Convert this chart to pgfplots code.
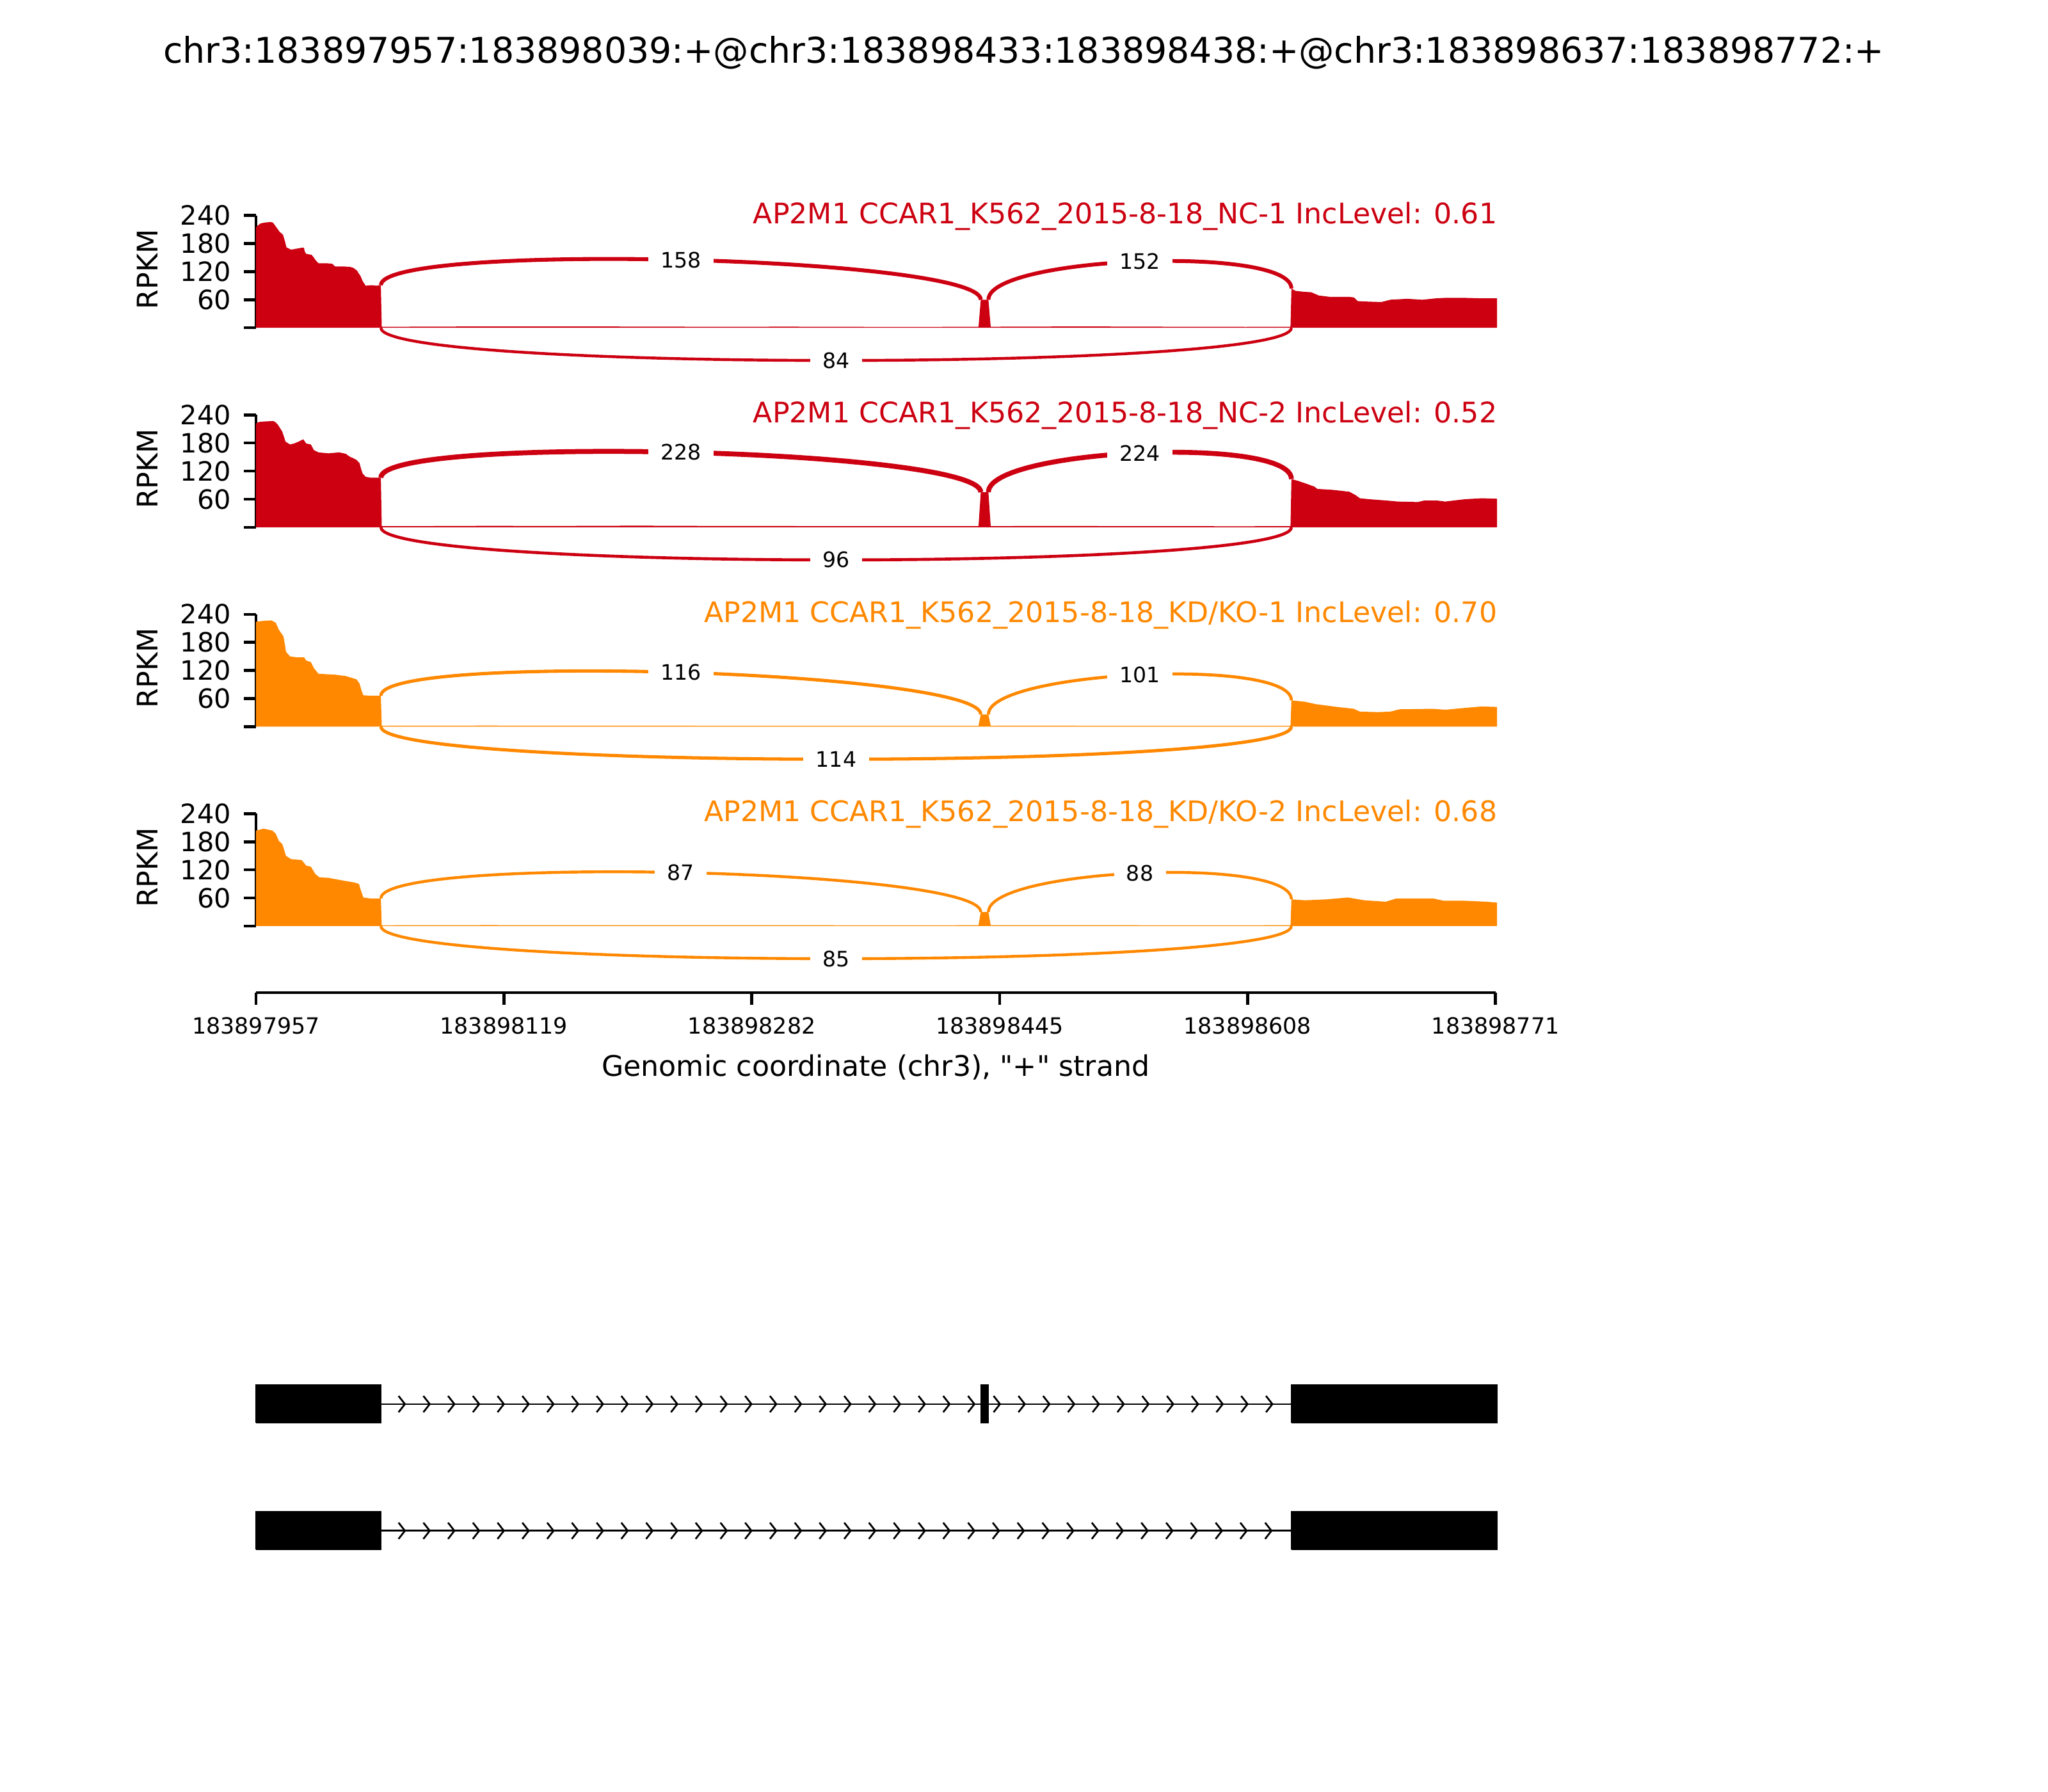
\documentclass[border=0pt]{standalone}
\usepackage{pgfplots}
\pgfplotsset{compat=1.18}
\usepackage{fontspec}
\setmainfont{DejaVu Sans}
\newfontfamily\qfont{DejaVu Sans}[Ligatures=TeXOff]
\definecolor{cred}{HTML}{CC0011}
\definecolor{corg}{HTML}{FF8800}
\pgfdeclareplotmark{chev}{%
  \pgfpathmoveto{\pgfqpoint{-1.8pt}{2.3pt}}%
  \pgfpathlineto{\pgfqpoint{0pt}{0pt}}%
  \pgfpathlineto{\pgfqpoint{-1.8pt}{-2.3pt}}%
  \pgfusepathqstroke}
\tikzset{jl/.style={fill=white, text=black, font=\fontsize{6}{7}\selectfont, inner xsep=3.5pt, inner ysep=1pt}}
\pgfplotsset{
  panel/.style={
    anchor=south west, width=349.9pt, height=31.71pt, scale only axis,
    xmin=0, xmax=814, ymin=0, ymax=240, clip=false,
    axis x line=none, axis y line*=left,
    ytick={0,60,120,180,240}, yticklabels={,60,120,180,240},
    tick align=outside, major tick length=3.5pt,
    every tick/.style={black, line width=0.8pt},
    y axis line style={line width=0.8pt, -},
    /pgf/number format/assume math mode=true,
    yticklabel style={font=\fontsize{7.5}{8}\selectfont},
  },
}
\begin{document}
\begin{tikzpicture}
\path[use as bounding box] (0,0) rectangle (578.16pt,505.89pt);
\node[font=\fontsize{10}{12}\selectfont] at (289.1pt,491.1pt) {chr3:183897957:183898039:+@chr3:183898433:183898438:+@chr3:183898637:183898772:+};

% ---------- Panel 1 ----------
\begin{axis}[panel, at={(72.27pt,413.34pt)}]
\addplot[fill=cred, draw=none] coordinates {
(0,215)(1,218)(3,223)(6,225)(9.5,226)(11,225)(12,221)(14,212)(15.5,205)(17.7,199)(19,185)(20,172)(23,167)(26.5,169)(30,171)(31.5,171)(32,163)(33,158)(36.5,156)(38,150)(39,145)(41,138)(46,138)(50,137)(52,131)(58,131)(62,130)(64,128)(66.4,122)(67.5,116)(68.6,111)(70,100)(72,90)(76,91)(79,90)(82,91)
(82.6,2.2)(120,2.5)(150,3.0)(200,3.0)(250,2.6)(300,2.2)(350,2.4)(400,2.0)(450,2.0)(474.5,2.2)
(476,60)(481,60)(482.5,2.2)(500,2.6)(550,2.8)(600,2.3)(650,2.0)(679.4,2.2)
(680,84)(682.6,79)(688,77)(693,76)(698,69)(705.5,66)(718,66)(721,65)(723.6,57)(730,56)(739,55)(745,60)(756,62)(766,60)(775,63)(781,64)(794,64)(805,63)(815,63)
} \closedcycle;
\draw[cred, line width=1.1pt] (axis cs:82,91) .. controls (axis cs:82,184) and (axis cs:476,153) .. (axis cs:476,60);
\draw[cred, line width=1.08pt] (axis cs:481,60) .. controls (axis cs:481,153) and (axis cs:680,177) .. (axis cs:680,84);
\draw[cred, line width=0.8pt] (axis cs:82,0) .. controls (axis cs:82,-93) and (axis cs:680,-93) .. (axis cs:680,0);
\node[jl] at (axis cs:279,145.25) {158};
\node[jl] at (axis cs:580.5,141.75) {152};
\node[jl] at (axis cs:381,-69.75) {84};
\node[anchor=base east, text=cred, font=\fontsize{8}{9}\selectfont, inner sep=0pt, xshift=0.7pt] at (axis cs:814,223) {AP2M1 CCAR1\_K562\_2015-8-18\_NC-1 IncLevel: 0.61};
\node[rotate=90, font=\fontsize{8}{9}\selectfont] at ([xshift=-30.6pt]axis cs:0,125) {RPKM};
\end{axis}

% ---------- Panel 2 ----------
\begin{axis}[panel, at={(72.27pt,357.03pt)}]
\addplot[fill=cred, draw=none] coordinates {
(0,222)(2,225)(5,226)(11.5,227)(13,224)(14.4,219)(17.3,204)(19.4,183)(22.3,177)(25,179)(28,183)(31,188)(33,179)(36,177)(38,165)(41,160)(47.5,158)(54.7,160)(59,157)(61,152)(66,144)(68,137)(69,125)(70,115)(72,108)(75,106)(82,106)
(82.6,2.4)(120,2.6)(150,3.0)(200,2.8)(250,3.4)(300,2.8)(350,2.6)(400,2.4)(450,2.3)(474.5,2.5)
(476,75)(481,75)(482.5,2.5)(500,2.6)(550,2.6)(600,2.3)(650,2.2)(679.4,2.4)
(680,103)(684.5,99)(689,94)(695,87)(697,82)(707,80)(718,76)(722,69)(725,62)(731,60)(743,57)(750,55)(763,54)(767,57)(776,57)(781,55)(794,60)(805,62)(815,61)
} \closedcycle;
\draw[cred, line width=1.4pt] (axis cs:82,106) .. controls (axis cs:82,199) and (axis cs:476,168) .. (axis cs:476,75);
\draw[cred, line width=1.38pt] (axis cs:481,75) .. controls (axis cs:481,168) and (axis cs:680,196) .. (axis cs:680,103);
\draw[cred, line width=0.84pt] (axis cs:82,0) .. controls (axis cs:82,-93) and (axis cs:680,-93) .. (axis cs:680,0);
\node[jl] at (axis cs:279,160.25) {228};
\node[jl] at (axis cs:580.5,158.75) {224};
\node[jl] at (axis cs:381,-69.75) {96};
\node[anchor=base east, text=cred, font=\fontsize{8}{9}\selectfont, inner sep=0pt, xshift=0.7pt] at (axis cs:814,223) {AP2M1 CCAR1\_K562\_2015-8-18\_NC-2 IncLevel: 0.52};
\node[rotate=90, font=\fontsize{8}{9}\selectfont] at ([xshift=-30.6pt]axis cs:0,125) {RPKM};
\end{axis}

% ---------- Panel 3 ----------
\begin{axis}[panel, at={(72.27pt,300.76pt)}]
\addplot[fill=corg, draw=none] coordinates {
(0,224)(5,226)(10,227)(13,222)(15,207)(18,193)(19,175)(19.7,160)(22.3,150)(27,148)(31.6,148)(33,141)(36,138)(38,125)(41,113)(46,112)(51.8,111)(59,108)(66,101)(68,92)(69.5,75)(70.5,67)(75,66)(82,66)
(82.6,1.8)(120,2.0)(150,2.2)(200,2.0)(250,1.9)(300,1.8)(350,1.8)(400,1.7)(450,1.7)(474.5,1.8)
(476,26)(481,26)(482.5,1.8)(500,1.9)(550,1.8)(600,1.7)(650,1.7)(679.4,1.8)
(680,56)(689,53)(696,48)(710,42)(721,38)(725,32)(737,31)(745,32)(751,37)(773,38)(781,36)(794,40)(805,43)(815,42)
} \closedcycle;
\draw[corg, line width=0.92pt] (axis cs:82,66) .. controls (axis cs:82,159) and (axis cs:476,119) .. (axis cs:476,26);
\draw[corg, line width=0.86pt] (axis cs:481,26) .. controls (axis cs:481,119) and (axis cs:680,149) .. (axis cs:680,56);
\draw[corg, line width=0.91pt] (axis cs:82,0) .. controls (axis cs:82,-93) and (axis cs:680,-93) .. (axis cs:680,0);
\node[jl] at (axis cs:279,115.75) {116};
\node[jl] at (axis cs:580.5,110.75) {101};
\node[jl] at (axis cs:381,-69.75) {114};
\node[anchor=base east, text=corg, font=\fontsize{8}{9}\selectfont, inner sep=0pt, xshift=0.7pt] at (axis cs:814,223) {AP2M1 CCAR1\_K562\_2015-8-18\_KD/KO-1 IncLevel: 0.70};
\node[rotate=90, font=\fontsize{8}{9}\selectfont] at ([xshift=-30.6pt]axis cs:0,125) {RPKM};
\end{axis}

% ---------- Panel 4 ----------
\begin{axis}[panel, at={(72.27pt,244.46pt)}]
\addplot[fill=corg, draw=none] coordinates {
(0,204)(5,208)(10.8,204)(13,197)(15,182)(17.3,175)(19.7,150)(23,143)(30,141)(33,129)(36,127)(39,111)(41.7,104)(47.5,103)(57.5,97)(64.7,93)(67.6,90)(69,75)(70.5,61)(75,59)(82,59)
(82.6,1.6)(120,1.8)(150,2.0)(200,1.9)(250,1.8)(300,1.7)(350,1.7)(400,1.6)(450,1.6)(474.5,1.7)
(476,30)(481,30)(482.5,1.7)(500,1.7)(550,1.7)(600,1.6)(650,1.6)(679.4,1.7)
(680,57)(689,55)(703,57)(717,61)(728,55)(742,52)(749,59)(759,59)(773,59)(780,54)(794,54)(808,52)(815,50)
} \closedcycle;
\draw[corg, line width=0.8pt] (axis cs:82,59) .. controls (axis cs:82,152) and (axis cs:476,123) .. (axis cs:476,30);
\draw[corg, line width=0.8pt] (axis cs:481,30) .. controls (axis cs:481,123) and (axis cs:680,150) .. (axis cs:680,57);
\draw[corg, line width=0.79pt] (axis cs:82,0) .. controls (axis cs:82,-93) and (axis cs:680,-93) .. (axis cs:680,0);
\node[jl] at (axis cs:279,114.25) {87};
\node[jl] at (axis cs:580.5,113.25) {88};
\node[jl] at (axis cs:381,-69.75) {85};
\node[anchor=base east, text=corg, font=\fontsize{8}{9}\selectfont, inner sep=0pt, xshift=0.7pt] at (axis cs:814,223) {AP2M1 CCAR1\_K562\_2015-8-18\_KD/KO-2 IncLevel: 0.68};
\node[rotate=90, font=\fontsize{8}{9}\selectfont] at ([xshift=-30.6pt]axis cs:0,125) {RPKM};
\end{axis}

% ---------- Genomic coordinate axis ----------
\begin{axis}[at={(72.27pt,225.66pt)}, anchor=south west, width=349.9pt, height=10pt, scale only axis,
  xmin=0, xmax=814, ymin=0, ymax=1, clip=false,
  axis x line*=bottom, axis y line=none,
  x axis line style={line width=0.8pt, -},
  xtick={0,162.8,325.6,488.4,651.2,814},
  xticklabels={183897957,183898119,183898282,183898445,183898608,183898771},
  tick align=outside, major tick length=3.5pt,
  every tick/.style={black, line width=0.8pt},
  xticklabel style={font=\fontsize{6.3}{7}\selectfont},
]
\addplot[draw=none] coordinates {(0,0)(814,0)};
\node[font=\qfont\fontsize{8}{9}\selectfont] at ([yshift=-21pt]axis cs:407,0) {Genomic coordinate (chr3), "+" strand};
\end{axis}

% ---------- Gene model ----------
\begin{axis}[at={(72.27pt,63.42pt)}, anchor=south west, width=349.9pt, height=56.41pt, scale only axis,
  xmin=0, xmax=814, ymin=0, ymax=153, clip=false, hide axis]
% track 1
\addplot[black, line width=0.5pt] coordinates {(82,125)(680,125)};
\addplot[black, only marks, mark=chev, mark options={line width=0.5pt}] coordinates {
(97.8,125)(114.1,125)(130.3,125)(146.6,125)(162.8,125)(179.1,125)(195.4,125)(211.6,125)(227.9,125)(244.1,125)(260.4,125)(276.7,125)(292.9,125)(309.2,125)(325.4,125)(341.7,125)(358.0,125)(374.2,125)(390.5,125)(406.7,125)(423.0,125)(439.3,125)(455.5,125)(471.8,125)
(488.6,125)(504.9,125)(521.1,125)(537.4,125)(553.6,125)(569.9,125)(586.2,125)(602.4,125)(618.7,125)(634.9,125)(651.2,125)(667.5,125)};
\addplot[fill=black, draw=black, line width=0.3pt] coordinates {(0,110.5)(82,110.5)(82,139.5)(0,139.5)(0,110.5)};
\addplot[fill=black, draw=black, line width=0.3pt] coordinates {(476,110.5)(481,110.5)(481,139.5)(476,139.5)(476,110.5)};
\addplot[fill=black, draw=black, line width=0.3pt] coordinates {(680,110.5)(815,110.5)(815,139.5)(680,139.5)(680,110.5)};
% track 2
\addplot[black, line width=0.5pt] coordinates {(82,28)(680,28)};
\addplot[black, only marks, mark=chev, mark options={line width=0.5pt}] coordinates {
(97.8,28)(114.1,28)(130.3,28)(146.6,28)(162.8,28)(179.1,28)(195.4,28)(211.6,28)(227.9,28)(244.1,28)(260.4,28)(276.7,28)(292.9,28)(309.2,28)(325.4,28)(341.7,28)(358.0,28)(374.2,28)(390.5,28)(406.7,28)(423.0,28)(439.3,28)(455.5,28)(471.8,28)(488.0,28)(504.3,28)(520.6,28)(536.8,28)(553.1,28)(569.3,28)(585.6,28)(601.9,28)(618.1,28)(634.4,28)(650.6,28)(666.9,28)};
\addplot[fill=black, draw=black, line width=0.3pt] coordinates {(0,13.5)(82,13.5)(82,42.5)(0,42.5)(0,13.5)};
\addplot[fill=black, draw=black, line width=0.3pt] coordinates {(680,13.5)(815,13.5)(815,42.5)(680,42.5)(680,13.5)};
\end{axis}
\end{tikzpicture}
\end{document}
